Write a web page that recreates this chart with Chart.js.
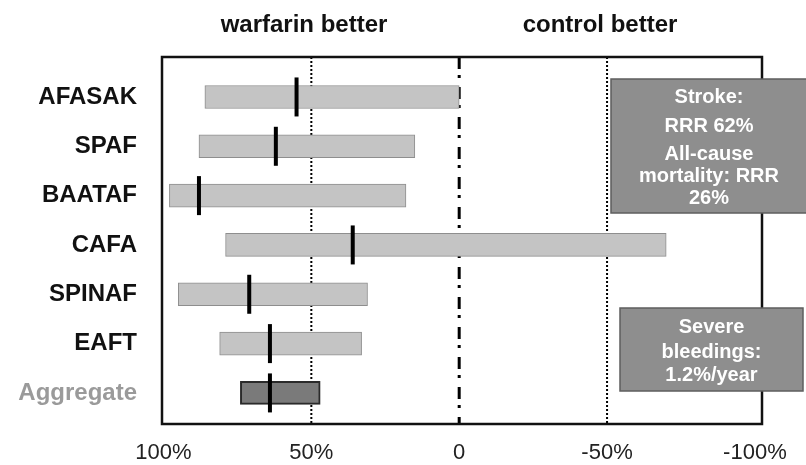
<!DOCTYPE html>
<html>
<head>
<meta charset="utf-8">
<script src="https://cdn.jsdelivr.net/npm/chart.js@4.4.0/dist/chart.umd.min.js"></script>
<style>
  html, body { margin: 0; padding: 0; background: #fff; }
  #wrap { width: 806px; height: 465px; }
</style>
</head>
<body>
<div id="wrap"><canvas id="forestChart"></canvas></div>
<script>
// === Data (relative risk reduction, %) ===
const trials = ["AFASAK", "SPAF", "BAATAF", "CAFA", "SPINAF", "EAFT", "Aggregate"];
const ciHigh = [86, 88, 98, 79, 95, 81, 74];
const ciLow = [0, 15, 18, -70, 31, 33, 47];
const pointEstimate = [55, 62, 88, 36, 71, 64, 64];
const xTickValues = [100, 50, 0, -50, -100];
const refLines = [50, 0, -50];
const sideLabels = ["warfarin better", "control better"];
const strokeNote = ["Stroke:", "RRR 62%", "All-cause", "mortality: RRR", "26%"];
const bleedNote = ["Severe", "bleedings:", "1.2%/year"];

const FONT = "'Liberation Sans', Arial, sans-serif";

// === Frame, reference lines and text boxes ===
const decorations = {
  id: "decorations",
  beforeDatasetsDraw(chart) {
    const { ctx, chartArea, scales } = chart;
    ctx.save();
    ctx.strokeStyle = "#000";
    refLines.forEach((v) => {
      const x = scales.x.getPixelForValue(v);
      ctx.beginPath();
      if (v === 0) {
        ctx.lineWidth = 3;
        ctx.setLineDash([12, 6, 3, 9]);
      } else {
        ctx.lineWidth = 2;
        ctx.setLineDash([2, 2]);
      }
      ctx.moveTo(x, chartArea.top);
      ctx.lineTo(x, chartArea.bottom);
      ctx.stroke();
    });
    ctx.restore();
  },
  afterDatasetsDraw(chart) {
    const { ctx, chartArea } = chart;
    ctx.save();
    // plot frame
    ctx.lineWidth = 2.5;
    ctx.strokeStyle = "#111";
    ctx.strokeRect(chartArea.left, chartArea.top, chartArea.right - chartArea.left, chartArea.bottom - chartArea.top);

    // header labels over each side of the zero line
    ctx.fillStyle = "#111";
    ctx.font = "bold 24px " + FONT;
    ctx.textAlign = "center";
    ctx.textBaseline = "alphabetic";
    ctx.fillText(sideLabels[0], 304, 32);
    ctx.fillText(sideLabels[1], 600, 32);

    // note boxes on the right
    const drawNote = (x, y, w, h, lines, ys) => {
      ctx.fillStyle = "#8e8e8e";
      ctx.fillRect(x, y, w, h);
      ctx.lineWidth = 1.5;
      ctx.strokeStyle = "#5e5e5e";
      ctx.strokeRect(x, y, w, h);
      ctx.fillStyle = "#fff";
      ctx.font = "bold 20px " + FONT;
      ctx.textAlign = "center";
      ctx.textBaseline = "middle";
      lines.forEach((t, i) => ctx.fillText(t, x + w / 2, ys[i]));
    };
    drawNote(611, 79, 196, 134, strokeNote, [97, 126, 154, 176, 198]);
    drawNote(620, 308, 183, 83, bleedNote, [327, 352, 375]);
    ctx.restore();
  },
};

const ctx = document.getElementById("forestChart").getContext("2d");
new Chart(ctx, {
  type: "bar",
  data: {
    datasets: [
      {
        type: "scatter",
        data: pointEstimate.map((v, i) => ({ x: v, y: i })),
        pointStyle: "line",
        rotation: 90,
        radius: 19.5,
        hoverRadius: 19.5,
        borderWidth: 4,
        borderColor: "#000",
        backgroundColor: "#000",
        order: 0,
      },
      {
        type: "bar",
        data: trials.map((t, i) => ({ x: [ciLow[i], ciHigh[i]], y: i })),
        backgroundColor: trials.map((t) => (t === "Aggregate" ? "#7a7a7a" : "#c4c4c4")),
        borderColor: trials.map((t) => (t === "Aggregate" ? "#2a2a2a" : "#8e8e8e")),
        borderWidth: trials.map((t) => (t === "Aggregate" ? 2 : 1)),
        borderSkipped: false,
        barThickness: 23,
        order: 1,
      },
    ],
  },
  options: {
    indexAxis: "y",
    responsive: true,
    maintainAspectRatio: false,
    animation: false,
    layout: { padding: { top: 57, right: 44, left: 0, bottom: 0 } },
    plugins: {
      legend: { display: false },
      tooltip: { enabled: false },
    },
    scales: {
      x: {
        type: "linear",
        min: -102.4,
        max: 100.5,
        reverse: true,
        offset: false,
        grid: { display: false, drawTicks: false },
        border: { display: false },
        afterBuildTicks: (s) => {
          s.ticks = xTickValues.map((v) => ({ value: v }));
        },
        afterFit: (s) => {
          s.height = 41;
        },
        ticks: {
          padding: 16,
          maxRotation: 0,
          autoSkip: false,
          color: "#222",
          font: { family: FONT, size: 22 },
          callback: (v) => (v === 0 ? "0" : v + "%"),
        },
      },
      y: {
        type: "linear",
        min: -0.81,
        max: 6.63,
        reverse: true,
        offset: false,
        grid: { display: false, drawTicks: false },
        border: { display: false },
        afterBuildTicks: (s) => {
          s.ticks = trials.map((t, i) => ({ value: i }));
        },
        afterFit: (s) => {
          s.width = 162;
        },
        ticks: {
          padding: 25,
          autoSkip: false,
          font: { family: FONT, size: 24, weight: "bold" },
          color: (c) => (c.index === 6 ? "#9a9a9a" : "#111"),
          callback: (v) => trials[v],
        },
      },
    },
  },
  plugins: [decorations],
});
</script>
</body>
</html>
